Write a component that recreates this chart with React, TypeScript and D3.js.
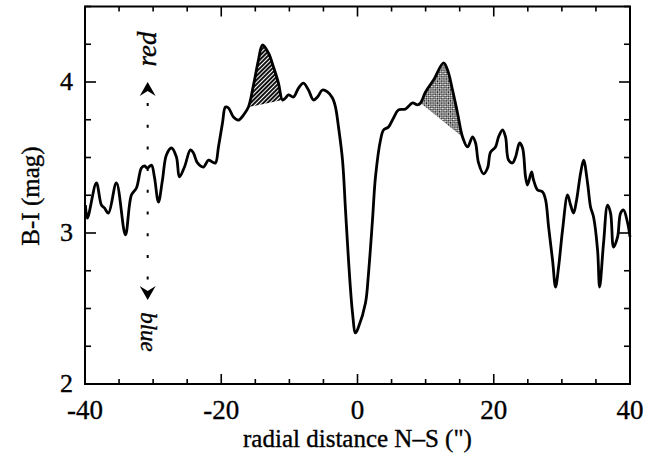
import React from 'react';
import * as d3 from 'd3';

// radial colour profile, N-S cut
const distance = [
  -39.94, -39.65, -38.33, -37.59, -37.15, -36.56, -35.39, -34.07, -33.19, -32.45,
  -31.72, -31.28, -30.84, -30.25, -29.81, -29.22, -28.63, -28.05, -27.31, -26.58,
  -26.14, -25.4, -24.52, -24.08, -23.49, -22.61, -21.88, -21.29, -20.85, -20.41,
  -19.82, -19.38, -18.94, -18.21, -17.47, -16.74, -16.01, -15.27, -14.54, -13.95,
  -13.07, -12.33, -11.6, -11.01, -10.57, -10.13, -9.4, -8.66, -7.93, -7.2,
  -6.46, -5.87, -5.14, -4.41, -3.67, -3.23, -2.79, -2.2, -1.76, -1.32,
  -0.73, -0.29, 0.15, 1.17, 1.62, 2.2, 2.64, 3.38, 3.82, 4.55,
  5.29, 6.02, 7.05, 8.08, 8.81, 9.25, 9.99, 11.16, 12.63, 13.22,
  13.95, 14.68, 15.42, 16.15, 16.89, 17.33, 17.77, 18.5, 19.09, 19.53,
  20.26, 20.7, 21.29, 21.73, 22.17, 22.76, 23.2, 23.79, 24.23, 24.67,
  24.96, 25.55, 25.84, 26.43, 27.17, 27.61, 28.05, 28.63, 29.07, 29.52,
  30.1, 30.84, 31.28, 31.72, 32.16, 32.75, 33.19, 33.77, 34.21, 34.65,
  35.24, 35.54, 36.12, 36.71, 37.15, 37.59, 38.18, 38.62, 39.06, 39.65,
  40.0,
];
const colourBI = [
  3.185, 3.099, 3.331, 3.185, 3.166, 3.132, 3.331, 2.987, 3.252, 3.298,
  3.43, 3.444, 3.43, 3.45, 3.371, 3.205, 3.351, 3.517, 3.563, 3.503,
  3.371, 3.437, 3.55, 3.53, 3.464, 3.437, 3.483, 3.47, 3.464, 3.57,
  3.728, 3.834, 3.828, 3.768, 3.748, 3.781, 3.834, 3.98, 4.146, 4.245,
  4.192, 4.099, 3.993, 3.881, 3.894, 3.914, 3.901, 3.96, 3.993, 3.947,
  3.881, 3.901, 3.947, 3.934, 3.894, 3.834, 3.702, 3.483, 3.152, 2.821,
  2.47, 2.338, 2.377, 2.536, 2.735, 3.086, 3.371, 3.616, 3.682, 3.702,
  3.762, 3.815, 3.821, 3.861, 3.848, 3.861, 3.934, 4.013, 4.126, 4.079,
  3.947, 3.795, 3.636, 3.57, 3.636, 3.596, 3.464, 3.391, 3.43, 3.536,
  3.57, 3.636, 3.682, 3.636, 3.483, 3.464, 3.503, 3.596, 3.563, 3.371,
  3.318, 3.404, 3.351, 3.285, 3.272, 3.219, 3.04, 2.821, 2.642, 2.775,
  3.02, 3.252, 3.185, 3.132, 3.219, 3.397, 3.483, 3.331, 3.172, 3.106,
  2.887, 2.642, 2.934, 3.185, 3.132, 2.907, 2.974, 3.132, 3.152, 3.066,
  2.974,
];

const xTickLabels = [-40, -20, 0, 20, 40];
const yTickLabels = [2, 3, 4];
const xMinorTicks = d3.range(-40, 41, 5);
const yMinorTicks = d3.range(2, 4.51, 0.25);

// shaded excess bumps
const shadeFrom = [-16.01, 9.25];
const shadeTo = [-11.01, 15.42];
const shadeFill = ['url(#hatchA)', 'url(#hatchB)'];

const W = 656;
const H = 454;
const left = 85, right = 630, top = 6.5, bottom = 384;
const serif = '"Liberation Serif", "Times New Roman", serif';

export default function App() {
  const x = d3.scaleLinear().domain([-40, 40]).range([left, right]);
  const y = d3.scaleLinear().domain([2, 4.5]).range([bottom, top]);

  const pts: [number, number][] = distance.map((d, i) => [d, colourBI[i]]);
  const line = d3.line<[number, number]>()
    .x(d => x(d[0]))
    .y(d => y(d[1]))
    .curve(d3.curveCatmullRom.alpha(0.5));

  const shades = shadeFrom.map((f, i) => {
    const sub = pts.filter(p => p[0] >= f - 0.001 && p[0] <= shadeTo[i] + 0.001);
    return (line(sub) || '') + 'Z';
  });

  const isMajorX = (v: number) => xTickLabels.includes(v);
  const isMajorY = (v: number) => Math.abs(v - Math.round(v)) < 0.001;

  const markerX = x(-30.8);
  const textStyle = { fontFamily: serif, fill: '#000', stroke: '#000', strokeWidth: 0.35 };

  return (
    <div style={{ position: 'absolute', left: 0, top: 0 }}>
      <svg width={W} height={H} style={{ display: 'block', background: '#fff' }}>
        <defs>
          <pattern id="hatchA" width={3} height={3} patternUnits="userSpaceOnUse" patternTransform="rotate(45)">
            <rect width={3} height={3} fill="#fff" />
            <rect width={2} height={3} fill="#111" />
          </pattern>
          <pattern id="hatchB" width={2.6} height={2.6} patternUnits="userSpaceOnUse" patternTransform="rotate(45)">
            <rect width={2.6} height={2.6} fill="#fff" />
            <rect width={1.3} height={1.3} fill="#111" />
            <rect x={1.3} y={1.3} width={1.3} height={1.3} fill="#111" />
          </pattern>
        </defs>

        {shades.map((d, i) => (
          <path key={i} d={d} fill={shadeFill[i]} stroke="none" />
        ))}

        <path d={line(pts) || ''} fill="none" stroke="#000" strokeWidth={2.8} strokeLinejoin="round" />

        {/* frame */}
        <rect x={left} y={top} width={right - left} height={bottom - top} fill="none" stroke="#000" strokeWidth={2} />

        {/* ticks */}
        {xMinorTicks.map(v => {
          const len = isMajorX(v) ? 10 : 5;
          return (
            <g key={'xt' + v} stroke="#000" strokeWidth={1.6}>
              <line x1={x(v)} x2={x(v)} y1={bottom} y2={bottom - len} />
              <line x1={x(v)} x2={x(v)} y1={top} y2={top + len} />
            </g>
          );
        })}
        {yMinorTicks.map(v => {
          const len = isMajorY(v) ? 11 : 6;
          return (
            <g key={'yt' + v} stroke="#000" strokeWidth={1.6}>
              <line x1={left} x2={left + len} y1={y(v)} y2={y(v)} />
              <line x1={right} x2={right - len} y1={y(v)} y2={y(v)} />
            </g>
          );
        })}

        {/* tick labels */}
        {xTickLabels.map(v => (
          <text key={'xl' + v} x={x(v)} y={bottom + 35} textAnchor="middle"
            fontSize={27} {...textStyle}>{v}</text>
        ))}
        {yTickLabels.map(v => (
          <text key={'yl' + v} x={left - 12} y={y(v) + 8} textAnchor="end"
            fontSize={26} {...textStyle}>{v}</text>
        ))}

        {/* axis titles */}
        <text x={x(0)} y={447} textAnchor="middle" fontSize={25} {...textStyle}>
          radial distance N–S (")
        </text>
        <text transform={`translate(39, 196) rotate(-90)`} textAnchor="middle"
          fontSize={25} {...textStyle}>B-I (mag)</text>

        {/* red / blue direction marker */}
        <line x1={markerX} x2={markerX} y1={103} y2={280} stroke="#000" strokeWidth={2}
          strokeDasharray="3 18.7" />
        <path d={`M${markerX},82 L${markerX - 8},96 L${markerX},91 L${markerX + 8},96 Z`} fill="#000" />
        <path d={`M${markerX},300 L${markerX - 8},286 L${markerX},291 L${markerX + 8},286 Z`} fill="#000" />
        <text transform={`translate(${markerX + 8}, 49) rotate(-90)`} textAnchor="middle"
          fontStyle="italic" fontSize={27} {...textStyle}>red</text>
        <text transform={`translate(${markerX - 7}, 332) rotate(90)`} textAnchor="middle"
          fontStyle="italic" fontSize={23} {...textStyle}>blue</text>
      </svg>
    </div>
  );
}
